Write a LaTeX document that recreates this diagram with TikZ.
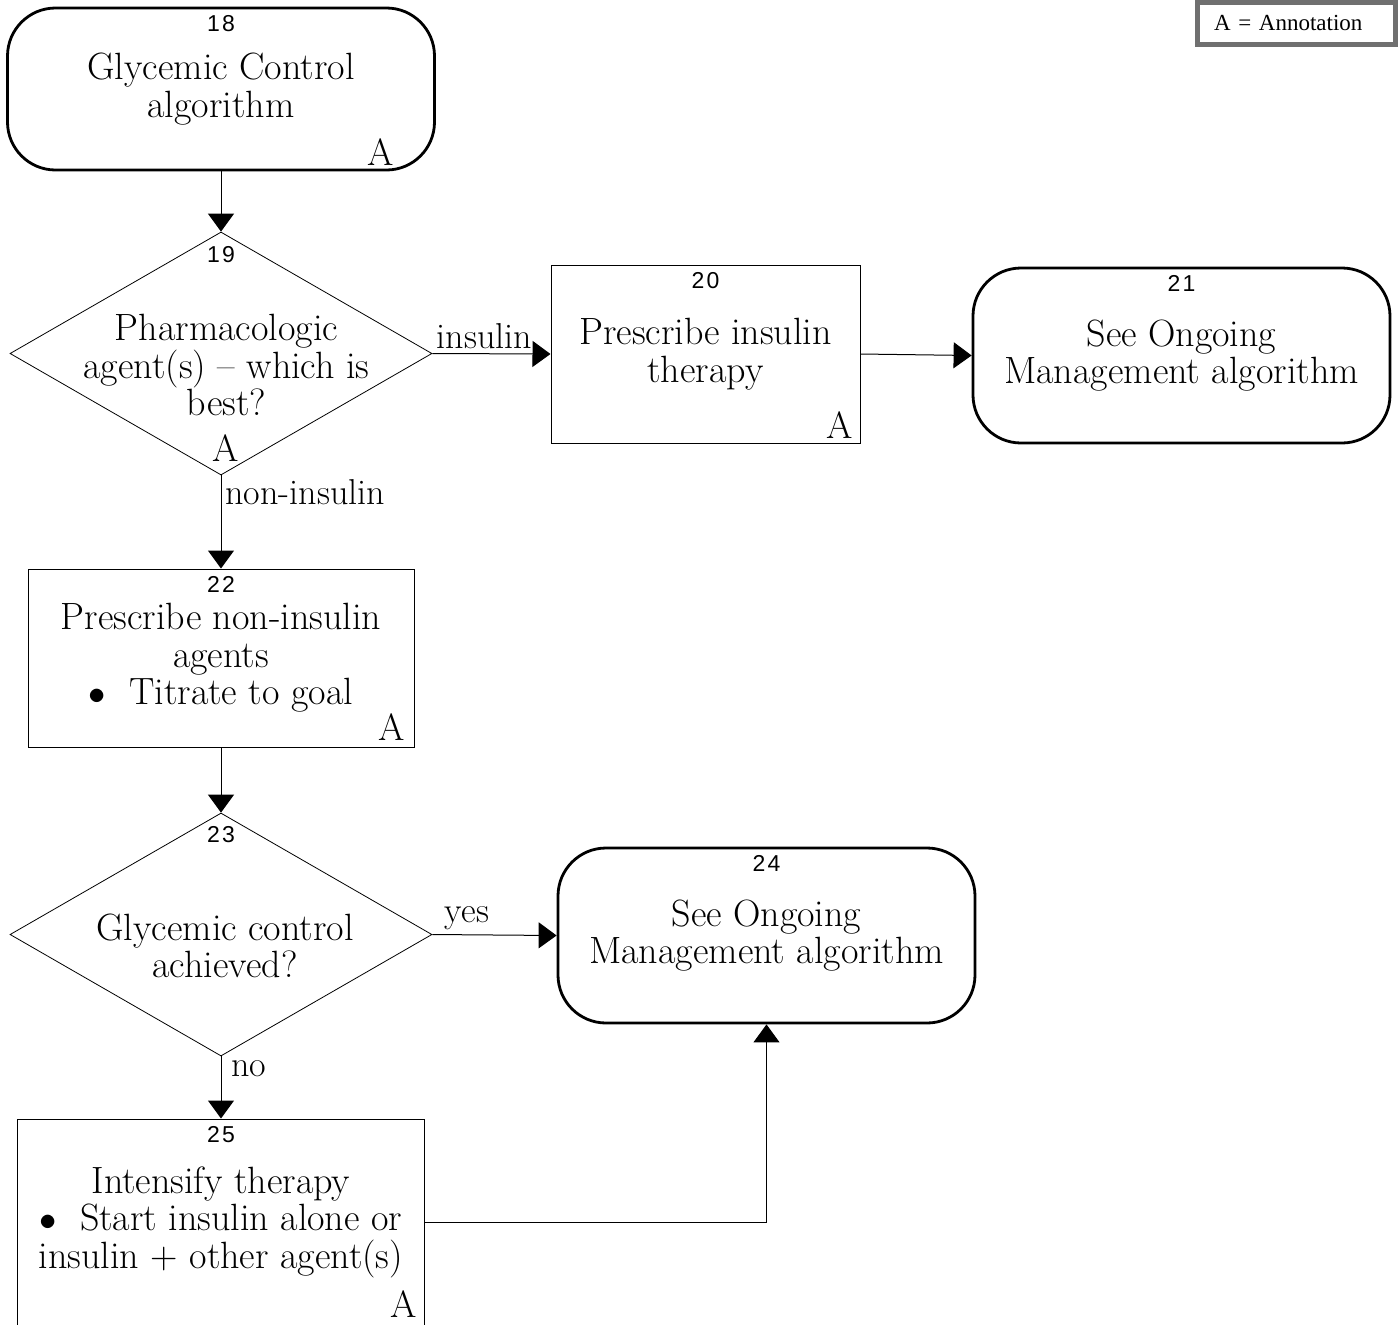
\documentclass[tikz,border=0pt]{standalone}
\usepackage{fontspec}
\newfontfamily\numfont[LetterSpace=10]{Liberation Sans}
\newfontfamily\keyfont{Liberation Serif}
\definecolor{keygray}{RGB}{112,112,112}
\usetikzlibrary{arrows.meta,shapes.geometric}

\begin{document}
\begin{tikzpicture}[
		x=0.5pt, y=-0.5pt,
		>={Triangle[length=9pt,width=13pt]},
		every node/.style={
			font=\fontsize{19}{18.8}\selectfont,
			inner sep=0pt,
			align=center,
		},
		terminal/.style={
			draw, line width=1.4pt, rounded corners=24pt,
		},
		process/.style={
			draw, line width=0.5pt,
		},
		decision/.style={
			draw, diamond, line width=0.4pt,
		},
		stepno/.style={
			font=\numfont\fontsize{11.5}{12}\selectfont,
			anchor=north, yshift=-4pt,
		},
		annot/.style={
			anchor=south east,
		},
		branch/.style={
			inner sep=2pt,
			font=\fontsize{18}{18}\selectfont,
		},
		flow/.style={
			->, line width=0.5pt,
		},
	]
		\useasboundingbox (0,0) rectangle (1399,1324);

		% legend
		\node[draw=keygray, line width=2.5pt, minimum height=21.25pt,
			text width=82.5pt, inner xsep=8.25pt, align=left,
			font=\keyfont\fontsize{11.5}{12}\selectfont]
			(key) at (1296.5,23.25) {A = Annotation};

		% boxes
		\node[terminal, minimum width=213.5pt, minimum height=81pt,
			label={[stepno]north:18},
			label={[annot, xshift=-21pt, yshift=3pt]south east:A}]
			(n18) at (221,89) {Glycemic Control\\algorithm};
		\node[decision, minimum width=211pt, minimum height=121.5pt,
			label={[stepno, yshift=-3pt]north:19},
			label={[anchor=south, xshift=2.5pt, yshift=7pt]south:A}]
			(n19) at (221,353.5) {};
		\node (q19) at ([xshift=2.75pt, yshift=-5.75pt]n19.center)
			{Pharmacologic\\agent(s) -- which is\\best?};
		\node[process, minimum width=154.5pt, minimum height=89pt,
			label={[stepno]north:20},
			label={[annot, xshift=-3.5pt, yshift=2.5pt]south east:A}]
			(n20) at (705.5,354) {Prescribe insulin\\therapy};
		\node[terminal, minimum width=208.5pt, minimum height=87.5pt,
			label={[stepno]north:21}]
			(n21) at (1181.5,355.5) {See Ongoing\\Management algorithm};
		\node[process, minimum width=193pt, minimum height=89pt,
			label={[stepno]north:22},
			label={[annot, xshift=-4.5pt, yshift=3.5pt]south east:A}]
			(n22) at (221,658) {Prescribe non-insulin\\agents\\$\bullet$\ \ Titrate to goal};
		\node[decision, minimum width=211pt, minimum height=121.5pt,
			label={[stepno, yshift=-2.5pt]north:23}]
			(n23) at (221,934.5) {};
		\node (q23) at ([xshift=2pt, yshift=-5.75pt]n23.center)
			{Glycemic control\\achieved?};
		\node[terminal, minimum width=208.5pt, minimum height=87.5pt,
			label={[stepno]north:24}]
			(n24) at (766.5,935.5) {See Ongoing\\Management algorithm};
		\node[process, minimum width=203.5pt, minimum height=103pt,
			label={[stepno]north:25},
			label={[annot, xshift=-4pt, yshift=4pt]south east:A}]
			(n25) at (221,1222) {Intensify therapy\\$\bullet$\ \ Start insulin alone or\\insulin + other agent(s)};

		% connectors
		\draw[flow] (n18.south) -- (n19.north);
		\draw[flow] (n19.east) -- node[pos=0, branch, above right] {insulin} (n20.west);
		\draw[flow] (n20.east) -- (n21.west);
		\draw[flow] (n19.south) -- node[pos=0, branch, below right] {non-insulin} (n22.north);
		\draw[flow] (n22.south) -- (n23.north);
		\draw[flow] (n23.east) -- node[pos=0, branch, above right, xshift=4pt] {yes} (n24.west);
		\draw[flow] (n23.south) -- node[pos=0, branch, below right, xshift=3pt] {no} (n25.north);
		\draw[flow] (n25.east) -| (n24.south);
	\end{tikzpicture}
\end{document}
